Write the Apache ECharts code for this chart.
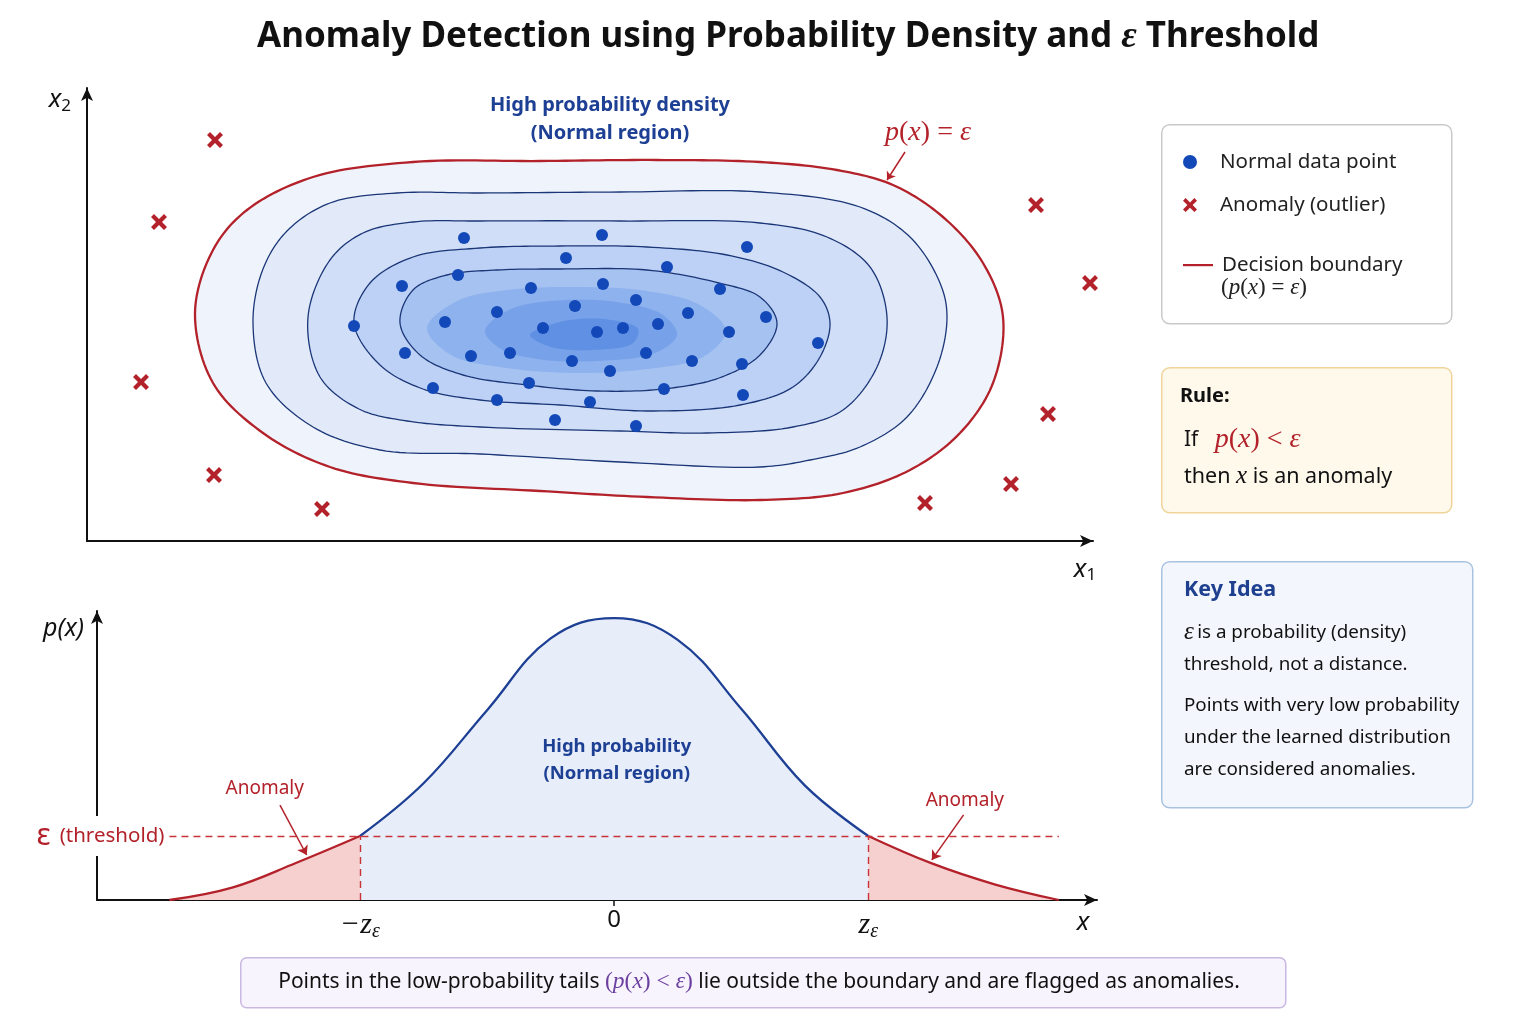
<!DOCTYPE html>
<html>
<head>
<meta charset="utf-8">
<script src="https://cdn.jsdelivr.net/npm/echarts@6/dist/echarts.min.js"></script>
<style>
  html, body { margin: 0; background: #fff; }
  #chart { width: 1536px; height: 1024px; }
</style>
</head>
<body>
<div id="chart"></div>
<script>
// ---- top panel: normal points and outliers (x1, x2) ----
var normalX = [37.7, 37.1, 31.5, 44.4, 41.0, 35.8, 26.7, 45.6, 31.8, 38.4, 42.3, 34.6, 44.2, 41.0, 46.8,
               51.5, 66.0, 47.9, 58.0, 51.6, 63.3, 54.9, 48.8, 60.1, 67.9, 51.0, 53.6, 57.1, 64.2, 73.1,
               48.5, 55.9, 52.3, 60.5, 65.5, 57.7, 65.6, 50.3, 54.9];
var normalY = [30.3, 26.6, 25.5, 25.3, 22.9, 21.9, 21.5, 21.3, 18.8, 18.5, 18.8, 15.3, 15.8, 14.1, 12.1,
               30.6, 29.4, 28.3, 27.4, 25.7, 25.2, 24.1, 23.5, 22.8, 22.4, 20.9, 21.3, 21.7, 20.9, 19.8,
               18.0, 18.8, 17.0, 18.0, 17.7, 15.2, 14.6, 13.9, 11.5];
var anomalyX = [12.8, 7.2, 5.4, 12.7, 23.5, 94.9, 100.3, 96.1, 92.4, 83.8];
var anomalyY = [40.1, 31.9, 15.9, 6.6, 3.2, 33.6, 25.8, 12.7, 5.7, 3.8];

// density contours, outermost (p(x) = eps) first, traced clockwise
var boundaryPts = [[10.8,22.8],[12.6,29.1],[16.0,33.1],[22.6,36.4],[32.6,37.9],[45.3,38.0],[57.0,38.1],[67.3,37.9],
  [75.0,37.1],[80.6,35.6],[85.6,32.4],[89.6,27.8],[91.6,22.4],[90.6,15.8],[87.3,10.8],[82.3,7.1],[75.6,4.8],[67.3,4.1],
  [56.0,4.4],[45.3,5.0],[32.6,5.8],[24.3,7.4],[17.6,10.8],[12.6,15.8]];
var ring1 = [[16.6,21.8],[17.6,27.2],[20.0,31.0],[24.3,33.8],[31.0,34.8],[39.3,34.8],[53.3,34.9],[67.3,34.9],
  [77.3,33.4],[82.3,30.4],[85.3,25.8],[86.0,22.4],[85.0,17.4],[82.0,12.4],[77.3,9.4],[72.3,8.1],[67.3,7.4],
  [53.3,7.9],[39.3,8.7],[29.3,9.1],[22.6,11.4],[17.9,15.8]];
var ring2 = [[22.1,22.4],[24.3,28.1],[27.6,30.8],[32.6,31.9],[39.3,32.0],[53.3,32.0],[67.3,31.8],[74.0,30.4],
  [78.3,27.4],[80.0,22.4],[79.0,17.4],[75.6,13.1],[70.6,11.4],[62.0,10.8],[53.3,11.0],[39.3,11.4],[32.0,12.0],
  [27.2,13.2],[23.3,16.4]];
var ring3 = [[26.7,21.8],[28.3,25.8],[32.6,28.4],[39.3,29.3],[47.3,29.5],[56.0,29.4],[64.0,28.6],[69.6,26.9],
  [73.3,24.4],[74.3,21.8],[73.3,18.4],[70.6,15.4],[65.3,13.6],[56.0,13.0],[47.3,13.6],[39.3,14.1],[33.6,15.2],
  [29.3,17.6]];
var ring4 = [[31.3,21.8],[32.6,25.1],[36.0,26.6],[41.0,27.1],[47.3,27.2],[56.0,27.1],[63.2,25.8],[67.3,24.4],
  [69.0,21.8],[67.3,18.6],[63.2,16.3],[57.6,15.2],[51.0,15.0],[44.0,15.6],[37.6,16.6],[33.3,18.6]];
var innerA = [[34.0,21.3],[37.0,24.0],[42.0,25.1],[49.0,25.4],[56.0,25.0],[61.3,23.6],[63.9,21.0],[61.6,18.4],
  [56.0,17.2],[49.0,16.8],[42.0,17.3],[36.4,18.6]];
var innerB = [[39.8,21.0],[42.4,23.2],[48.0,24.1],[53.6,23.8],[57.6,22.6],[59.0,20.6],[56.8,18.8],[51.0,18.0],
  [45.0,18.2],[41.4,19.2]];
var innerC = [[44.3,20.6],[47.3,21.9],[51.6,22.2],[55.1,21.2],[54.6,19.8],[50.6,19.1],[46.4,19.4]];

// ---- bottom panel: 1-D density p(x) ----
var zVals = [-3.5, -3, -2.5, -2, -1.5, -1, -0.5, 0, 0.5, 1, 1.5, 2, 2.5, 3, 3.5];
var pVals = [0, 0.018, 0.053, 0.091, 0.166, 0.270, 0.372, 0.401, 0.370, 0.272, 0.163, 0.091, 0.052, 0.022, 0];
var epsilon = 0.091;
var zEps = 2;
var tickValues = [-2, 0, 2];
var tickLabels = ['{i|\u2212z}{s|\u03b5}', '{n|0}', '{i|z}{s|\u03b5}'];

var SANS = '"Noto Sans", "Open Sans", sans-serif';
var SERIF = '"Liberation Serif", "DejaVu Serif", serif';
var RED = '#b3222a', NAVY = '#1d3f94', LINE = '#1b3677', DOT = '#1248b8';
var XPATH = 'path://M0,3 L3,0 L8,5 L13,0 L16,3 L11,8 L16,13 L13,16 L8,11 L3,16 L0,13 L5,8 Z';
var LINEPATH = 'path://M0,0 L0,0 M0,6 L30,6 L30,8.2 L0,8.2 Z M30,14 L30,14';

var densityRings = [ring1, ring2, ring3, ring4, innerA, innerB, innerC];
var ringFill = ['#e2eafa', '#d0def8', '#bcd1f5', '#a6c2f1', '#8eb2ee', '#77a1e9', '#5f90e4'];
var ringLine = [LINE, LINE, LINE, LINE, null, null, null];

function pairs(xs, ys) {
  return xs.map(function (x, i) { return [x, ys[i]]; });
}
function curvePart(lo, hi) {
  var out = [];
  zVals.forEach(function (z, i) { if (z >= lo && z <= hi) out.push([z, pVals[i]]); });
  return out;
}
// closed centripetal Catmull-Rom through the traced contour points (pixel space)
function closedSpline(pts, n) {
  var out = [], L = pts.length;
  function dist(a, b) { return Math.pow(Math.hypot(b[0] - a[0], b[1] - a[1]), 0.5) || 1e-4; }
  function mix(a, b, ta, tb, t) {
    var u = (t - ta) / (tb - ta);
    return [a[0] + (b[0] - a[0]) * u, a[1] + (b[1] - a[1]) * u];
  }
  for (var i = 0; i < L; i++) {
    var p0 = pts[(i - 1 + L) % L], p1 = pts[i], p2 = pts[(i + 1) % L], p3 = pts[(i + 2) % L];
    var t0 = 0, t1 = t0 + dist(p0, p1), t2 = t1 + dist(p1, p2), t3 = t2 + dist(p2, p3);
    for (var k = 0; k < n; k++) {
      var t = t1 + (t2 - t1) * k / n;
      var a1 = mix(p0, p1, t0, t1, t), a2 = mix(p1, p2, t1, t2, t), a3 = mix(p2, p3, t2, t3, t);
      var b1 = mix(a1, a2, t0, t2, t), b2 = mix(a2, a3, t1, t3, t);
      out.push(mix(b1, b2, t1, t2, t));
    }
  }
  return out;
}

var myChart = echarts.init(document.getElementById('chart'));

var option = {
  animation: false,
  backgroundColor: '#fff',
  title: {
    text: '{t|Anomaly Detection using Probability Density and }{e|\u03b5}{t| Threshold}',
    left: 252,
    top: 13,
    textStyle: {
      rich: {
        t: { fontFamily: SANS, fontSize: 35, fontWeight: 'bold', color: '#111' },
        e: { fontFamily: SERIF, fontStyle: 'italic', fontSize: 38, color: '#111' }
      }
    }
  },
  grid: [
    { left: 87, right: 443, top: 88, bottom: 483 },
    { left: 97, right: 439, top: 611, bottom: 124 }
  ],
  xAxis: [
    {
      type: 'value', gridIndex: 0, min: 0, max: 100.6,
      name: '{i|x}{s|1}', nameLocation: 'end', nameGap: -8,
      nameTextStyle: {
        align: 'center', verticalAlign: 'top', padding: [14, 0, 0, 0],
        rich: { i: { fontFamily: SANS, fontStyle: 'italic', fontSize: 26, color: '#111' },
                s: { fontFamily: SANS, fontSize: 17, color: '#111', padding: [12, 0, 0, 0] } }
      },
      axisLine: { lineStyle: { color: '#111', width: 2 }, symbol: ['none', 'arrow'], symbolSize: [9, 13] },
      axisTick: { show: false }, axisLabel: { show: false }, splitLine: { show: false }
    },
    {
      type: 'value', gridIndex: 1, min: -4.07, max: 3.8,
      name: 'x', nameLocation: 'end', nameGap: -14,
      nameTextStyle: { align: 'center', verticalAlign: 'top', padding: [10, 0, 0, 0],
        fontFamily: SANS, fontStyle: 'italic', fontSize: 26, color: '#111' },
      axisLine: { lineStyle: { color: '#111', width: 2 }, symbol: ['none', 'arrow'], symbolSize: [9, 13] },
      axisTick: { show: true, customValues: [0], length: 6, lineStyle: { color: '#111', width: 1.5 } },
      axisLabel: {
        show: true, customValues: tickValues, margin: 8,
        formatter: function (v) {
          var k = tickValues.indexOf(v);
          return k < 0 ? '' : tickLabels[k];
        },
        rich: {
          i: { fontFamily: SERIF, fontStyle: 'italic', fontSize: 30, color: '#111' },
          s: { fontFamily: SERIF, fontStyle: 'italic', fontSize: 20, color: '#111', padding: [14, 0, 0, 0] },
          n: { fontFamily: SANS, fontSize: 24, color: '#111' }
        }
      },
      splitLine: { show: false }
    }
  ],
  yAxis: [
    {
      type: 'value', gridIndex: 0, min: 0, max: 45.3,
      name: '{i|x}{s|2}', nameLocation: 'end', nameGap: -12,
      nameTextStyle: {
        align: 'right', verticalAlign: 'middle', padding: [0, 16, 0, 0],
        rich: { i: { fontFamily: SANS, fontStyle: 'italic', fontSize: 26, color: '#111' },
                s: { fontFamily: SANS, fontSize: 17, color: '#111', padding: [12, 0, 0, 0] } }
      },
      axisLine: { onZero: false, lineStyle: { color: '#111', width: 2 }, symbol: ['none', 'arrow'], symbolSize: [9, 13] },
      axisTick: { show: false }, axisLabel: { show: false }, splitLine: { show: false }
    },
    {
      type: 'value', gridIndex: 1, min: 0, max: 0.411,
      name: 'p(x)', nameLocation: 'end', nameGap: -18,
      nameTextStyle: { align: 'right', verticalAlign: 'middle', padding: [0, 13, 0, 0],
        fontFamily: SANS, fontStyle: 'italic', fontSize: 25, color: '#111' },
      axisLine: { onZero: false, lineStyle: { color: '#111', width: 2 }, symbol: ['none', 'arrow'], symbolSize: [9, 13] },
      axisTick: { show: false }, axisLabel: { show: false }, splitLine: { show: false }
    }
  ],
  legend: [
    {
      data: [{ name: 'Normal data point', icon: 'circle' }, { name: 'Anomaly (outlier)', icon: XPATH }],
      orient: 'vertical', left: 1178, top: 146, itemWidth: 30, itemHeight: 14, itemGap: 21,
      selectedMode: false,
      textStyle: { fontFamily: SANS, fontSize: 20.5, color: '#222', lineHeight: 22, padding: [0, 0, 0, 10] }
    },
    {
      data: [{ name: 'Decision boundary', icon: LINEPATH }],
      orient: 'vertical', left: 1178, top: 249, itemWidth: 30, itemHeight: 14,
      selectedMode: false,
      textStyle: { fontFamily: SANS, fontSize: 20.5, color: '#222', lineHeight: 22, padding: [0, 0, 0, 4] }
    }
  ],
  graphic: [
    // legend box
    { type: 'rect', left: 1161, top: 124, shape: { width: 290, height: 199, r: 8 },
      style: { fill: '#fff', stroke: '#c9c9c9', lineWidth: 1.5 }, z: -1 },
    { type: 'text', left: 1221, top: 276,
      style: { text: '{u|(}{m|p}{u|(}{m|x}{u|) = }{m|\u03b5}{u|)}',
        rich: { u: { fontFamily: SERIF, fontSize: 23, fill: '#222' },
                m: { fontFamily: SERIF, fontStyle: 'italic', fontSize: 23, fill: '#222' } } } },
    // rule box
    { type: 'rect', left: 1161, top: 367, shape: { width: 290, height: 145, r: 8 },
      style: { fill: '#fff9ec', stroke: '#f0d49a', lineWidth: 1.5 }, z: -1 },
    { type: 'text', left: 1180, top: 386,
      style: { text: 'Rule:', fontFamily: SANS, fontSize: 20, fontWeight: 'bold', fill: '#111' } },
    { type: 'text', left: 1184, top: 426,
      style: { text: '{s|If   }{m|p}{u|(}{m|x}{u|) < }{m|\u03b5}',
        rich: { s: { fontFamily: SANS, fontSize: 21, fill: '#111' },
                m: { fontFamily: SERIF, fontStyle: 'italic', fontSize: 28, fill: RED },
                u: { fontFamily: SERIF, fontSize: 28, fill: RED } } } },
    { type: 'text', left: 1184, top: 464,
      style: { text: '{s|then }{m|x}{s| is an anomaly}',
        rich: { s: { fontFamily: SANS, fontSize: 21.5, fill: '#111' },
                m: { fontFamily: SERIF, fontStyle: 'italic', fontSize: 25, fill: '#111' } } } },
    // key idea box
    { type: 'rect', left: 1161, top: 561, shape: { width: 311, height: 246, r: 8 },
      style: { fill: '#f3f7fd', stroke: '#a9c2e0', lineWidth: 1.5 }, z: -1 },
    { type: 'text', left: 1184, top: 579,
      style: { text: 'Key Idea', fontFamily: SANS, fontSize: 21.5, fontWeight: 'bold', fill: '#1f3f8f' } },
    { type: 'text', left: 1184, top: 620,
      style: { text: '{e|\u03b5} {s|is a probability (density)}\n{s|threshold, not a distance.}',
        rich: { e: { fontFamily: SERIF, fontStyle: 'italic', fontSize: 25, fill: '#111', lineHeight: 32 },
                s: { fontFamily: SANS, fontSize: 18.8, fill: '#111', lineHeight: 32 } } } },
    { type: 'text', left: 1184, top: 690,
      style: { text: 'Points with very low probability\nunder the learned distribution\nare considered anomalies.',
        fontFamily: SANS, fontSize: 18.8, fill: '#111', lineHeight: 32 } },
    // bottom note
    { type: 'rect', left: 240, top: 957, shape: { width: 1045, height: 50, r: 6 },
      style: { fill: '#f8f4fd', stroke: '#c9b8e2', lineWidth: 1.5 }, z: -1 },
    { type: 'text', x: 759, y: 982,
      style: { text: '{s|Points in the low-probability tails }{p|(}{m|p}{p|(}{m|x}{p|) < }{m|\u03b5}{p|)}{s| lie outside the boundary and are flagged as anomalies.}',
        align: 'center', verticalAlign: 'middle',
        rich: { s: { fontFamily: SANS, fontSize: 21, fill: '#111' },
                p: { fontFamily: SERIF, fontSize: 23.5, fill: '#6a3fa0' },
                m: { fontFamily: SERIF, fontStyle: 'italic', fontSize: 23.5, fill: '#6a3fa0' } } } }
  ],
  series: [
    {
      name: 'Decision boundary',
      type: 'custom',
      xAxisIndex: 0, yAxisIndex: 0,
      itemStyle: { color: RED },
      data: [boundaryPts[0]],
      silent: true,
      renderItem: function (params, api) {
        var pts = closedSpline(boundaryPts.map(function (p) { return api.coord(p); }), 14);
        return { type: 'polygon', shape: { points: pts },
                 style: { fill: '#eff4fc', stroke: RED, lineWidth: 2.3 } };
      }
    },
    {
      name: 'density',
      type: 'custom',
      xAxisIndex: 0, yAxisIndex: 0,
      data: densityRings.map(function (r) { return r[0]; }),
      silent: true,
      renderItem: function (params, api) {
        var i = params.dataIndex;
        var pts = closedSpline(densityRings[i].map(function (p) { return api.coord(p); }), 14);
        return { type: 'polygon', shape: { points: pts },
                 style: { fill: ringFill[i], stroke: ringLine[i] || 'none', lineWidth: 1.3 } };
      }
    },
    {
      name: 'Normal data point',
      type: 'scatter',
      xAxisIndex: 0, yAxisIndex: 0,
      symbol: 'circle', symbolSize: 12,
      itemStyle: { color: DOT, opacity: 1 },
      data: pairs(normalX, normalY),
      markPoint: {
        silent: true, symbol: 'circle', symbolSize: 0,
        label: { show: true, position: 'inside', color: NAVY, fontFamily: SANS, fontSize: 20,
                 fontWeight: 'bold', lineHeight: 28, align: 'center' },
        data: [{ coord: [52.3, 42.2], label: { formatter: 'High probability density\n(Normal region)' } }]
      }
    },
    {
      name: 'Anomaly (outlier)',
      type: 'scatter',
      xAxisIndex: 0, yAxisIndex: 0,
      symbol: XPATH, symbolSize: 16,
      itemStyle: { color: RED, opacity: 1 },
      data: pairs(anomalyX, anomalyY),
      markPoint: {
        silent: true, symbol: 'circle', symbolSize: 0,
        label: {
          show: true, position: 'inside',
          formatter: '{m|p}{u|(}{m|x}{u|) = }{m|\u03b5}',
          rich: { m: { fontFamily: SERIF, fontStyle: 'italic', fontSize: 28, color: RED },
                  u: { fontFamily: SERIF, fontSize: 28, color: RED } }
        },
        data: [{ coord: [84.1, 40.8] }]
      },
      markLine: {
        silent: true, symbol: ['none', 'arrow'], symbolSize: 8,
        label: { show: false },
        lineStyle: { color: RED, width: 1.5, type: 'solid' },
        data: [[{ coord: [81.8, 38.9] }, { coord: [80.0, 36.1] }]]
      }
    },
    {
      name: 'tailLeft',
      type: 'line', xAxisIndex: 1, yAxisIndex: 1,
      smooth: 0.4, showSymbol: false, symbol: 'none',
      lineStyle: { color: RED, width: 2.3 },
      areaStyle: { color: '#f6cfcf', opacity: 1 },
      data: curvePart(-10, -zEps)
    },
    {
      name: 'center',
      type: 'line', xAxisIndex: 1, yAxisIndex: 1,
      smooth: 0.4, showSymbol: false, symbol: 'none',
      lineStyle: { color: NAVY, width: 2.3 },
      areaStyle: { color: '#e7eefa', opacity: 1 },
      data: curvePart(-zEps, zEps),
      markLine: {
        silent: true, symbol: ['none', 'none'],
        label: { show: false },
        lineStyle: { color: '#c8343a', width: 1.4, type: [7, 5] },
        data: [
          [{ coord: [-3.5, epsilon],
             label: { show: true, position: 'start', distance: 2,
                      backgroundColor: '#fff', padding: [5, 3, 5, 3],
                      formatter: '{e|\u03b5}{t|(threshold)}',
                      rich: { e: { fontFamily: SANS, fontSize: 30, color: RED },
                              t: { fontFamily: SANS, fontSize: 20.5, color: RED, padding: [0, 0, 0, 9] } } } },
           { coord: [3.5, epsilon] }],
          [{ coord: [-zEps, 0] }, { coord: [-zEps, epsilon] }],
          [{ coord: [zEps, 0] }, { coord: [zEps, epsilon] }],
          [{ coord: [-2.63, 0.135], symbol: 'none', lineStyle: { type: 'solid', width: 1.5, color: RED } },
           { coord: [-2.42, 0.064], symbol: 'arrow', symbolSize: 9 }],
          [{ coord: [2.75, 0.121], symbol: 'none', lineStyle: { type: 'solid', width: 1.5, color: RED } },
           { coord: [2.50, 0.057], symbol: 'arrow', symbolSize: 9 }]
        ]
      },
      markPoint: {
        silent: true, symbol: 'circle', symbolSize: 0,
        label: { show: true, position: 'inside', fontFamily: SANS, fontSize: 19 },
        data: [
          { coord: [0.02, 0.199],
            label: { formatter: 'High probability\n(Normal region)', color: NAVY, fontWeight: 'bold',
                     lineHeight: 27, fontSize: 18.5 } },
          { coord: [-2.75, 0.159], label: { formatter: 'Anomaly', color: RED } },
          { coord: [2.76, 0.142], label: { formatter: 'Anomaly', color: RED } }
        ]
      }
    },
    {
      name: 'tailRight',
      type: 'line', xAxisIndex: 1, yAxisIndex: 1,
      smooth: 0.4, showSymbol: false, symbol: 'none',
      lineStyle: { color: RED, width: 2.3 },
      areaStyle: { color: '#f6cfcf', opacity: 1 },
      data: curvePart(zEps, 10)
    }
  ]
};

myChart.setOption(option);
</script>
</body>
</html>
